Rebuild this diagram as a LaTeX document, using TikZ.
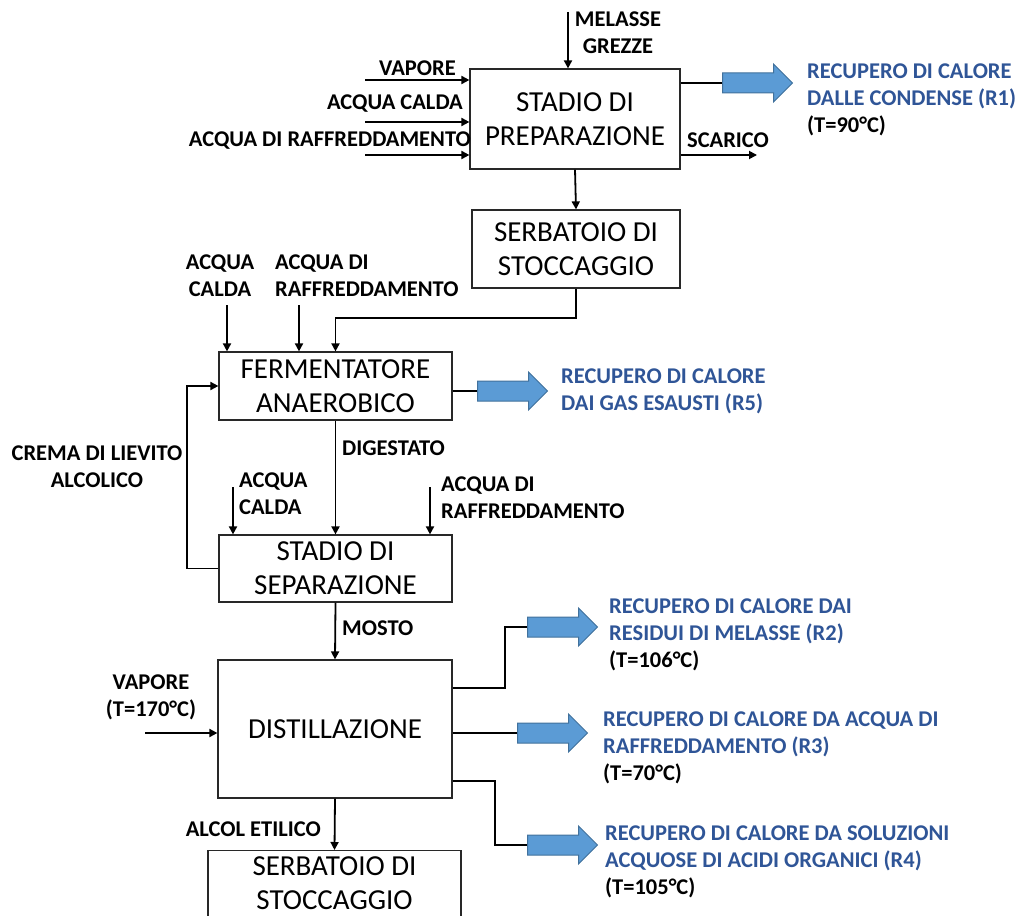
\documentclass[tikz,border=0pt]{standalone}
\usepackage{fontspec}
\setmainfont{Carlito}
\usetikzlibrary{shapes.arrows,arrows.meta}
\definecolor{fatfill}{RGB}{91,155,213}
\definecolor{fatdraw}{RGB}{65,113,156}
\definecolor{rtext}{RGB}{47,85,151}
\definecolor{boxline}{RGB}{40,40,40}
\tikzset{
  box/.style={draw=boxline, line width=1.2pt, align=center, inner sep=0pt,
    font=\fontsize{29}{34}\selectfont},
  lbl/.style={font=\bfseries\fontsize{22.5}{27}\selectfont, inner sep=0pt},
  rlbl/.style={lbl, align=left, text=rtext},
  conn/.style={line width=1.8pt},
  arr/.style={conn, -{Triangle[length=8pt,width=8pt]}},
  fat/.style={shape=single arrow, draw=fatdraw, fill=fatfill, line width=1pt,
    minimum height=70pt, minimum width=37pt, single arrow head extend=9pt,
    inner xsep=0pt, inner ysep=9.5pt, anchor=tail, shape border rotate=0}
}
\begin{document}
\begin{tikzpicture}[x=1pt,y=-1pt]
\useasboundingbox (0,0) rectangle (1019,915);
\clip (0,0) rectangle (1019,915);
% boxes
\node[box, minimum width=210pt, minimum height=100pt] (prep) at (575,119) {STADIO DI\\PREPARAZIONE};
\node[box, minimum width=208pt, minimum height=78pt] (serb1) at (576,249) {SERBATOIO DI\\STOCCAGGIO};
\node[box, minimum width=233pt, minimum height=68pt] (ferm) at (335.5,386) {FERMENTATORE\\ANAEROBICO};
\node[box, minimum width=233pt, minimum height=67pt] (sep) at (335.5,568.5) {STADIO DI\\SEPARAZIONE};
\node[box, minimum width=234pt, minimum height=138pt] (dist) at (335,729) {DISTILLAZIONE};
\node[box, minimum width=253pt, minimum height=120pt, anchor=north] (serb2) at (334.5,850) {};
\node[font=\fontsize{29}{34}\selectfont, align=center, inner sep=0pt] (serb2t) at (334.5,883) {SERBATOIO DI\\STOCCAGGIO};
% fat arrows
\node[fat] (r1) at (722,83) {};
\node[fat] (r5) at (477,391) {};
\node[fat] (r2) at (527,627) {};
\node[fat] (r3) at (517,733) {};
\node[fat] (r4) at (527,845) {};
% labels
\node[lbl, align=center] (lmel) at (618,33) {MELASSE\\GREZZE};
\node[lbl, anchor=east] (lvap1) at (456,68) {VAPORE};
\node[lbl, anchor=east] (lac1) at (463,104) {ACQUA CALDA};
\node[lbl, anchor=east] (lar1) at (471,141) {ACQUA DI RAFFREDDAMENTO};
\node[rlbl, anchor=west] (tr1) at (807,100) {RECUPERO DI CALORE\\DALLE CONDENSE (R1)\\\textcolor{black}{(T=90°C)}};
\node[lbl] (lsc) at (728,140) {SCARICO};
\node[lbl, align=center] (lac2) at (220,276) {ACQUA\\CALDA};
\node[lbl, align=left, anchor=west] (lar2) at (275,276) {ACQUA DI\\RAFFREDDAMENTO};
\node[rlbl, anchor=west] (tr5) at (561,391) {RECUPERO DI CALORE\\DAI GAS ESAUSTI (R5)};
\node[lbl, align=center] (lcrema) at (97,467) {CREMA DI LIEVITO\\ALCOLICO};
\node[lbl, anchor=west] (ldig) at (342,448) {DIGESTATO};
\node[lbl, align=left, anchor=west] (lac3) at (239,494) {ACQUA\\CALDA};
\node[lbl, align=left, anchor=west] (lar3) at (441,498) {ACQUA DI\\RAFFREDDAMENTO};
\node[lbl, anchor=west] (lmosto) at (342,628) {MOSTO};
\node[lbl, align=center] (lvap2) at (151,697) {VAPORE\\(T=170°C)};
\node[rlbl, anchor=west] (tr2) at (609,635) {RECUPERO DI CALORE DAI\\RESIDUI DI MELASSE (R2)\\\textcolor{black}{(T=106°C)}};
\node[rlbl, anchor=west] (tr3) at (603,748) {RECUPERO DI CALORE DA ACQUA DI\\RAFFREDDAMENTO (R3)\\\textcolor{black}{(T=70°C)}};
\node[rlbl, anchor=west] (tr4) at (605,862) {RECUPERO DI CALORE DA SOLUZIONI\\ACQUOSE DI ACIDI ORGANICI (R4)\\\textcolor{black}{(T=105°C)}};
\node[lbl, anchor=east] (lalc) at (321,829) {ALCOL ETILICO};
% free ends
\coordinate (m0) at (568,12);
\coordinate (v1) at (365,80);
\coordinate (a1) at (365,122);
\coordinate (a2) at (365,155);
\coordinate (sc) at (757,155);
\coordinate (k1) at (0,318);
\coordinate (ac1) at (227,305);
\coordinate (ar1) at (299,305);
\coordinate (fb) at (187,0);
\coordinate (ac2) at (233,487);
\coordinate (ar2) at (430,487);
\coordinate (v2) at (145,733);
\coordinate (d2) at (505,688);
\coordinate (d4) at (495,781);
% connectors
\draw[arr] (m0) -- (m0 |- prep.north);
\draw[arr] (v1) -- (v1 -| prep.west);
\draw[arr] (a1) -- (a1 -| prep.west);
\draw[arr] (a2) -- (a2 -| prep.west);
\draw[conn] (r1.tail -| prep.east) -- (r1.tail);
\draw[arr] (sc -| prep.east) -- (sc);
\draw[arr] (prep.south) -- (serb1.north);
\draw[arr] (serb1.south) -- (serb1.south |- k1) -| (ferm.north);
\draw[arr] (ac1) -- (ac1 |- ferm.north);
\draw[arr] (ar1) -- (ar1 |- ferm.north);
\draw[conn] (r5.tail -| ferm.east) -- (r5.tail);
\draw[arr] (ferm.south) -- (sep.north);
\draw[arr] (sep.west) -- (sep.west -| fb) |- (ferm.west);
\draw[arr] (ac2) -- (ac2 |- sep.north);
\draw[arr] (ar2) -- (ar2 |- sep.north);
\draw[arr] (sep.south) -- (dist.north);
\draw[arr] (v2) -- (v2 -| dist.west);
\draw[conn] (d2 -| dist.east) -- (d2) |- (r2.tail);
\draw[conn] (r3.tail -| dist.east) -- (r3.tail);
\draw[conn] (d4 -| dist.east) -- (d4) |- (r4.tail);
\draw[arr] (dist.south) -- (serb2.north);
\end{tikzpicture}
\end{document}
